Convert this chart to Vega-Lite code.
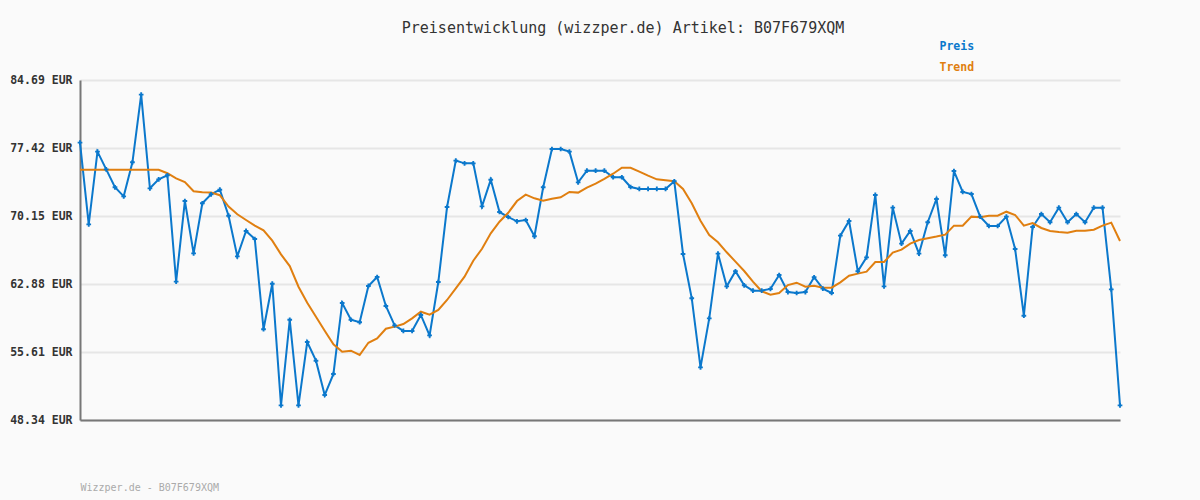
{
"$schema": "https://vega.github.io/schema/vega-lite/v6.json",
"autosize": {"type": "none"},
"padding": {"left": 80, "top": 80, "right": 80, "bottom": 80},
"width": 1040,
"height": 340,
"background": "#fafafa",
"title": {"text": "Preisentwicklung (wizzper.de) Artikel: B07F679XQM", "font": "DejaVu Sans Mono", "fontSize": 15, "fontWeight": "normal", "color": "#333333", "anchor": "middle", "frame": "group", "dx": 23, "offset": 5},
"config": {"view": {"stroke": null}, "font": "DejaVu Sans Mono"},
"data": {"values": [
{"i":0,"Preis":77.99,"Trend":75.10},{"i":1,"Preis":69.26,"Trend":75.10},{"i":2,"Preis":77.03,"Trend":75.10},{"i":3,"Preis":75.14,"Trend":75.10},{"i":4,"Preis":73.22,"Trend":75.10},{"i":5,"Preis":72.25,"Trend":75.10},{"i":6,"Preis":75.89,"Trend":75.10},{"i":7,"Preis":83.12,"Trend":75.10},{"i":8,"Preis":73.11,"Trend":75.10},{"i":9,"Preis":74.07,"Trend":75.10},
{"i":10,"Preis":74.50,"Trend":74.72},{"i":11,"Preis":63.13,"Trend":74.18},{"i":12,"Preis":71.75,"Trend":73.78},{"i":13,"Preis":66.16,"Trend":72.79},{"i":14,"Preis":71.51,"Trend":72.68},{"i":15,"Preis":72.47,"Trend":72.65},{"i":16,"Preis":72.96,"Trend":72.37},{"i":17,"Preis":70.18,"Trend":71.16},{"i":18,"Preis":65.84,"Trend":70.33},{"i":19,"Preis":68.55,"Trend":69.72},
{"i":20,"Preis":67.69,"Trend":69.12},{"i":21,"Preis":58.04,"Trend":68.62},{"i":22,"Preis":62.91,"Trend":67.51},{"i":23,"Preis":49.91,"Trend":66.05},{"i":24,"Preis":59.06,"Trend":64.80},{"i":25,"Preis":49.91,"Trend":62.59},{"i":26,"Preis":56.68,"Trend":60.88},{"i":27,"Preis":54.68,"Trend":59.38},{"i":28,"Preis":51.01,"Trend":57.89},{"i":29,"Preis":53.26,"Trend":56.43},
{"i":30,"Preis":60.85,"Trend":55.64},{"i":31,"Preis":59.06,"Trend":55.75},{"i":32,"Preis":58.79,"Trend":55.29},{"i":33,"Preis":62.67,"Trend":56.60},{"i":34,"Preis":63.63,"Trend":57.07},{"i":35,"Preis":60.53,"Trend":58.10},{"i":36,"Preis":58.46,"Trend":58.32},{"i":37,"Preis":57.86,"Trend":58.60},{"i":38,"Preis":57.86,"Trend":59.21},{"i":39,"Preis":59.57,"Trend":59.92},
{"i":40,"Preis":57.39,"Trend":59.60},{"i":41,"Preis":63.09,"Trend":60.10},{"i":42,"Preis":71.11,"Trend":61.17},{"i":43,"Preis":76.07,"Trend":62.42},{"i":44,"Preis":75.78,"Trend":63.66},{"i":45,"Preis":75.78,"Trend":65.37},{"i":46,"Preis":71.18,"Trend":66.65},{"i":47,"Preis":74.03,"Trend":68.30},{"i":48,"Preis":70.58,"Trend":69.54},{"i":49,"Preis":70.04,"Trend":70.50},
{"i":50,"Preis":69.58,"Trend":71.75},{"i":51,"Preis":69.72,"Trend":72.43},{"i":52,"Preis":67.98,"Trend":72.04},{"i":53,"Preis":73.22,"Trend":71.79},{"i":54,"Preis":77.31,"Trend":72.00},{"i":55,"Preis":77.31,"Trend":72.15},{"i":56,"Preis":77.03,"Trend":72.72},{"i":57,"Preis":73.75,"Trend":72.65},{"i":58,"Preis":75.00,"Trend":73.18},{"i":59,"Preis":75.00,"Trend":73.61},
{"i":60,"Preis":75.00,"Trend":74.11},{"i":61,"Preis":74.29,"Trend":74.67},{"i":62,"Preis":74.29,"Trend":75.31},{"i":63,"Preis":73.25,"Trend":75.31},{"i":64,"Preis":73.04,"Trend":74.89},{"i":65,"Preis":73.04,"Trend":74.46},{"i":66,"Preis":73.04,"Trend":74.07},{"i":67,"Preis":73.04,"Trend":73.97},{"i":68,"Preis":73.86,"Trend":73.86},{"i":69,"Preis":66.09,"Trend":73.04},
{"i":70,"Preis":61.35,"Trend":71.51},{"i":71,"Preis":53.97,"Trend":69.65},{"i":72,"Preis":59.21,"Trend":68.12},{"i":73,"Preis":66.13,"Trend":67.34},{"i":74,"Preis":62.63,"Trend":66.27},{"i":75,"Preis":64.24,"Trend":65.27},{"i":76,"Preis":62.74,"Trend":64.27},{"i":77,"Preis":62.17,"Trend":63.13},{"i":78,"Preis":62.17,"Trend":62.10},{"i":79,"Preis":62.35,"Trend":61.74},
{"i":80,"Preis":63.84,"Trend":61.92},{"i":81,"Preis":62.02,"Trend":62.77},{"i":82,"Preis":61.92,"Trend":63.02},{"i":83,"Preis":62.02,"Trend":62.59},{"i":84,"Preis":63.60,"Trend":62.70},{"i":85,"Preis":62.38,"Trend":62.49},{"i":86,"Preis":61.92,"Trend":62.49},{"i":87,"Preis":68.05,"Trend":63.06},{"i":88,"Preis":69.62,"Trend":63.77},{"i":89,"Preis":64.24,"Trend":63.99},
{"i":90,"Preis":65.73,"Trend":64.20},{"i":91,"Preis":72.40,"Trend":65.23},{"i":92,"Preis":62.63,"Trend":65.23},{"i":93,"Preis":71.04,"Trend":66.23},{"i":94,"Preis":67.19,"Trend":66.56},{"i":95,"Preis":68.55,"Trend":67.20},{"i":96,"Preis":66.13,"Trend":67.58},{"i":97,"Preis":69.48,"Trend":67.77},{"i":98,"Preis":71.97,"Trend":67.95},{"i":99,"Preis":65.95,"Trend":68.16},
{"i":100,"Preis":74.96,"Trend":69.12},{"i":101,"Preis":72.72,"Trend":69.12},{"i":102,"Preis":72.50,"Trend":70.08},{"i":103,"Preis":70.08,"Trend":70.01},{"i":104,"Preis":69.08,"Trend":70.18},{"i":105,"Preis":69.08,"Trend":70.18},{"i":106,"Preis":70.08,"Trend":70.61},{"i":107,"Preis":66.62,"Trend":70.26},{"i":108,"Preis":59.49,"Trend":69.12},{"i":109,"Preis":68.97,"Trend":69.40},
{"i":110,"Preis":70.36,"Trend":68.87},{"i":111,"Preis":69.48,"Trend":68.55},{"i":112,"Preis":71.04,"Trend":68.44},{"i":113,"Preis":69.48,"Trend":68.37},{"i":114,"Preis":70.36,"Trend":68.58},{"i":115,"Preis":69.48,"Trend":68.58},{"i":116,"Preis":71.04,"Trend":68.69},{"i":117,"Preis":71.04,"Trend":69.12},{"i":118,"Preis":62.31,"Trend":69.44},{"i":119,"Preis":49.91,"Trend":67.48}
]},
"transform": [{"fold": ["Preis", "Trend"], "as": ["Serie", "Wert"]}],
"encoding": {
  "x": {"field": "i", "type": "quantitative", "scale": {"domain": [0, 119], "nice": false, "zero": false},
    "axis": {"labels": false, "ticks": false, "grid": false, "domain": true, "domainColor": "#777777", "domainWidth": 2,
      "title": "Wizzper.de - B07F679XQM", "titleFont": "DejaVu Sans Mono", "titleFontSize": 10, "titleFontWeight": "normal", "titleColor": "#aaaaaa", "titleAnchor": "start", "titleAlign": "left", "titleBaseline": "middle", "titleX": 0, "titleY": 67}},
  "y": {"field": "Wert", "type": "quantitative", "scale": {"domain": [48.34, 84.69], "nice": false, "zero": false},
    "axis": {"values": [48.34, 55.61, 62.88, 70.15, 77.42, 84.69], "labelExpr": "format(datum.value, '.2f') + ' EUR'", "title": null, "ticks": false, "labelPadding": 8,
      "labelFont": "DejaVu Sans Mono", "labelFontSize": 11.5, "labelFontWeight": "bold", "labelColor": "#333333",
      "domainColor": "#777777", "domainWidth": 2, "gridColor": "#e6e6e6", "gridWidth": 2}},
  "color": {"field": "Serie", "type": "nominal", "scale": {"domain": ["Preis", "Trend"], "range": ["#0b78cc", "#e07f10"]},
    "legend": {"title": null, "orient": "none", "legendX": 848, "legendY": -39, "symbolSize": 0, "symbolStrokeWidth": 0, "symbolOpacity": 0, "labelOffset": 0, "rowPadding": 8,
      "labelFont": "DejaVu Sans Mono", "labelFontSize": 11.5, "labelFontWeight": "bold",
      "encode": {"labels": {"update": {"fill": {"scale": "color", "field": "value"}}}}}}
},
"layer": [
  {"mark": {"type": "line", "strokeWidth": 2}, "encoding": {"strokeWidth": {"condition": {"test": "datum.Serie == 'Trend'", "value": 1.8}, "value": 2.2}}},
  {"transform": [{"filter": "datum.Serie == 'Preis'"}], "mark": {"type": "point", "shape": "cross", "filled": true, "size": 22, "opacity": 1}}
]
}
